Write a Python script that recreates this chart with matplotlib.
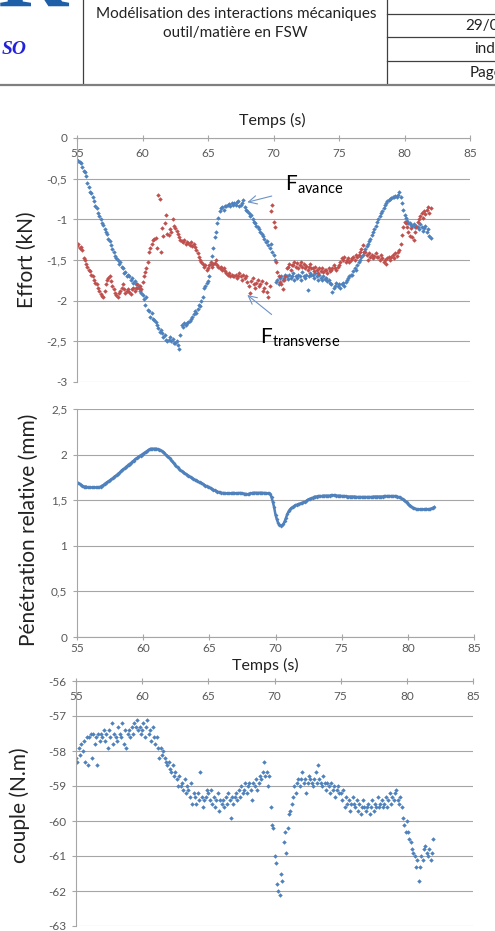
import numpy as np
import matplotlib
matplotlib.use("Agg")
import matplotlib.pyplot as plt

plt.rcParams['font.family'] = ['Lato', 'DejaVu Sans']
plt.rcParams['mathtext.fontset'] = 'custom'
plt.rcParams['mathtext.rm'] = 'Lato'
plt.rcParams['axes.unicode_minus'] = False

# sample times, one every 0.1 s from 55 s to 82 s
temps = np.round(np.arange(55.0, 82.05, 0.1), 1)

f_avance = [
    -0.27, -0.28, -0.30, -0.31, -0.36, -0.41, -0.42, -0.47, -0.55, -0.60,
    -0.66, -0.68, -0.72, -0.78, -0.84, -0.86, -0.92, -0.96, -1.00, -1.05,
    -1.07, -1.12, -1.15, -1.18, -1.24, -1.27, -1.31, -1.36, -1.40, -1.45,
    -1.48, -1.50, -1.55, -1.53, -1.58, -1.60, -1.66, -1.65, -1.70, -1.68,
    -1.70, -1.74, -1.72, -1.78, -1.76, -1.80, -1.84, -1.82, -1.88, -1.90,
    -1.93, -1.98, -2.05, -1.95, -2.12, -2.13, -2.20, -2.15, -2.22, -2.24,
    -2.26, -2.30, -2.33, -2.38, -2.36, -2.40, -2.45, -2.42, -2.48, -2.50,
    -2.48, -2.45, -2.50, -2.47, -2.52, -2.52, -2.50, -2.55, -2.60, -2.42,
    -2.30, -2.32, -2.28, -2.30, -2.27, -2.26, -2.25, -2.22, -2.20, -2.16,
    -2.13, -2.15, -2.10, -2.05, -2.07, -2.00, -1.95, -1.85, -1.82, -1.78,
    -1.76, -1.70, -1.55, -1.45, -1.35, -1.22, -1.15, -1.05, -0.98, -0.90,
    -0.86, -0.85, -0.88, -0.83, -0.84, -0.82, -0.81, -0.83, -0.80, -0.82,
    -0.80, -0.82, -0.79, -0.78, -0.84, -0.82, -0.80, -0.76, -0.85, -0.88,
    -0.90, -0.92, -0.96, -0.95, -1.00, -1.03, -1.05, -1.08, -1.10, -1.12,
    -1.15, -1.18, -1.20, -1.24, -1.28, -1.27, -1.32, -1.35, -1.30, -1.40,
    -1.44, -1.50, -1.77, -1.74, -1.80, -1.72, -1.70, -1.75, -1.72, -1.68,
    -1.70, -1.73, -1.68, -1.72, -1.70, -1.66, -1.74, -1.70, -1.72, -1.68,
    -1.70, -1.74, -1.65, -1.70, -1.72, -1.68, -1.87, -1.70, -1.66, -1.69,
    -1.68, -1.72, -1.66, -1.70, -1.74, -1.68, -1.72, -1.75, -1.70, -1.73,
    -1.72, -1.76, -1.74, -1.78, -1.80, -1.89, -1.84, -1.82, -1.78, -1.82,
    -1.80, -1.84, -1.80, -1.78, -1.82, -1.77, -1.74, -1.72, -1.70, -1.69,
    -1.68, -1.64, -1.60, -1.62, -1.56, -1.52, -1.50, -1.46, -1.44, -1.40,
    -1.36, -1.33, -1.30, -1.27, -1.24, -1.19, -1.16, -1.12, -1.08, -1.03,
    -0.99, -0.96, -0.92, -0.90, -0.86, -0.82, -0.80, -0.78, -0.76, -0.75,
    -0.74, -0.72, -0.73, -0.71, -0.72, -0.70, -0.66, -0.72, -0.80, -0.88,
    -0.95, -0.98, -1.02, -1.05, -1.04, -1.07, -1.08, -1.06, -1.10, -1.08,
    -1.09, -1.12, -1.06, -1.10, -1.14, -1.11, -1.08, -1.15, -1.12, -1.20,
    -1.23,
]

f_transverse = [
    -1.33, -1.30, -1.35, -1.34, -1.38, -1.48, -1.50, -1.55, -1.58, -1.62,
    -1.64, -1.68, -1.70, -1.74, -1.78, -1.80, -1.84, -1.88, -1.92, -1.94,
    -1.95, -1.88, -1.80, -1.74, -1.72, -1.70, -1.76, -1.82, -1.86, -1.90,
    -1.93, -1.96, -1.90, -1.88, -1.84, -1.80, -1.86, -1.90, -1.88, -1.86,
    -1.89, -1.92, -1.86, -1.84, -1.88, -1.85, -1.80, -1.84, -1.82, -1.86,
    -1.77, -1.70, -1.65, -1.60, -1.52, -1.40, -1.35, -1.30, -1.26, -1.24,
    -1.23, -1.35, -0.70, -0.75, -1.40, -1.11, -1.20, -1.05, -0.95, -1.18,
    -1.19, -1.12, -1.15, -1.00, -1.08, -1.11, -1.14, -1.18, -1.22, -1.25,
    -1.27, -1.28, -1.26, -1.30, -1.28, -1.29, -1.31, -1.28, -1.33, -1.30,
    -1.34, -1.38, -1.42, -1.46, -1.50, -1.52, -1.55, -1.58, -1.56, -1.62,
    -1.60, -1.56, -1.52, -1.58, -1.55, -1.54, -1.50, -1.56, -1.58, -1.60,
    -1.58, -1.62, -1.60, -1.64, -1.66, -1.68, -1.66, -1.70, -1.68, -1.70,
    -1.70, -1.68, -1.72, -1.70, -1.66, -1.70, -1.74, -1.68, -1.72, -1.70,
    -1.77, -1.82, -1.90, -1.76, -1.72, -1.80, -1.85, -1.78, -1.74, -1.82,
    -1.80, -1.76, -1.88, -1.84, -1.78, -1.89, -1.95, -1.82, -0.90, -0.82,
    -1.03, -1.10, -1.52, -1.65, -1.70, -1.77, -1.80, -1.86, -1.75, -1.70,
    -1.60, -1.58, -1.55, -1.62, -1.56, -1.56, -1.52, -1.58, -1.54, -1.60,
    -1.56, -1.52, -1.58, -1.55, -1.60, -1.57, -1.62, -1.58, -1.55, -1.60,
    -1.60, -1.64, -1.58, -1.62, -1.66, -1.60, -1.63, -1.60, -1.65, -1.62,
    -1.62, -1.66, -1.60, -1.64, -1.62, -1.60, -1.56, -1.60, -1.62, -1.58,
    -1.56, -1.52, -1.48, -1.50, -1.46, -1.52, -1.50, -1.48, -1.52, -1.50,
    -1.48, -1.46, -1.50, -1.44, -1.46, -1.44, -1.40, -1.36, -1.32, -1.40,
    -1.40, -1.44, -1.50, -1.42, -1.46, -1.44, -1.48, -1.45, -1.42, -1.46,
    -1.46, -1.50, -1.44, -1.48, -1.52, -1.50, -1.55, -1.48, -1.46, -1.50,
    -1.46, -1.44, -1.48, -1.42, -1.45, -1.40, -1.38, -1.30, -1.19, -1.10,
    -1.03, -1.05, -1.10, -1.15, -1.20, -1.11, -1.22, -1.25, -1.15, -1.10,
    -1.03, -1.00, -0.96, -0.92, -0.98, -0.90, -0.94, -0.88, -0.85, -0.92,
    -0.86,
]

penetration = [
    1.69, 1.69, 1.68, 1.67, 1.66, 1.65, 1.65, 1.65, 1.64, 1.64,
    1.64, 1.64, 1.64, 1.64, 1.64, 1.64, 1.64, 1.64, 1.65, 1.66,
    1.665, 1.68, 1.69, 1.70, 1.71, 1.72, 1.73, 1.74, 1.755, 1.765,
    1.775, 1.79, 1.80, 1.815, 1.83, 1.84, 1.85, 1.865, 1.875, 1.89,
    1.90, 1.91, 1.925, 1.935, 1.95, 1.96, 1.97, 1.98, 1.99, 2.00,
    2.01, 2.02, 2.03, 2.04, 2.05, 2.06, 2.065, 2.065, 2.065, 2.065,
    2.065, 2.06, 2.055, 2.05, 2.04, 2.03, 2.02, 2.00, 1.99, 1.975,
    1.96, 1.94, 1.925, 1.905, 1.89, 1.87, 1.86, 1.845, 1.83, 1.82,
    1.81, 1.80, 1.79, 1.78, 1.77, 1.76, 1.75, 1.74, 1.735, 1.725,
    1.72, 1.71, 1.70, 1.695, 1.69, 1.68, 1.67, 1.66, 1.655, 1.645,
    1.64, 1.63, 1.62, 1.615, 1.61, 1.60, 1.595, 1.59, 1.585, 1.58,
    1.58, 1.578, 1.575, 1.575, 1.575, 1.575, 1.575, 1.578, 1.58, 1.578,
    1.575, 1.575, 1.578, 1.58, 1.578, 1.575, 1.572, 1.57, 1.568, 1.565,
    1.57, 1.575, 1.578, 1.58, 1.582, 1.582, 1.58, 1.58, 1.582, 1.582,
    1.58, 1.58, 1.578, 1.575, 1.575, 1.575, 1.57, 1.53, 1.48, 1.42,
    1.34, 1.29, 1.25, 1.23, 1.22, 1.225, 1.24, 1.27, 1.31, 1.35,
    1.38, 1.40, 1.415, 1.425, 1.435, 1.445, 1.45, 1.455, 1.46, 1.465,
    1.47, 1.475, 1.48, 1.49, 1.50, 1.51, 1.515, 1.52, 1.525, 1.535,
    1.54, 1.54, 1.545, 1.545, 1.545, 1.545, 1.55, 1.55, 1.55, 1.55,
    1.55, 1.55, 1.555, 1.555, 1.555, 1.555, 1.55, 1.55, 1.55, 1.55,
    1.545, 1.545, 1.545, 1.545, 1.54, 1.54, 1.54, 1.54, 1.54, 1.54,
    1.54, 1.535, 1.535, 1.535, 1.535, 1.535, 1.535, 1.535, 1.535, 1.535,
    1.535, 1.535, 1.535, 1.535, 1.54, 1.54, 1.54, 1.54, 1.54, 1.54,
    1.54, 1.54, 1.545, 1.545, 1.545, 1.545, 1.545, 1.545, 1.545, 1.545,
    1.545, 1.545, 1.54, 1.535, 1.53, 1.52, 1.51, 1.50, 1.49, 1.475,
    1.46, 1.45, 1.44, 1.425, 1.415, 1.41, 1.405, 1.40, 1.40, 1.40,
    1.40, 1.40, 1.40, 1.40, 1.405, 1.40, 1.40, 1.405, 1.41, 1.415,
    1.425,
]

couple = [
    -58.2, -58.3, -57.9, -58.1, -57.8, -58.0, -57.7, -58.3, -57.6, -58.4,
    -57.6, -57.5, -58.2, -57.5, -57.8, -57.6, -58.4, -57.5, -57.7, -57.5,
    -57.6, -57.4, -57.7, -57.5, -57.9, -57.4, -57.6, -57.2, -57.8, -57.5,
    -57.6, -57.7, -57.3, -57.5, -57.6, -57.2, -57.8, -57.4, -57.9, -57.5,
    -57.4, -57.6, -57.3, -57.5, -57.2, -57.3, -57.1, -57.4, -57.3, -57.5,
    -57.4, -57.2, -57.6, -57.3, -57.1, -57.5, -57.4, -57.7, -57.3, -57.6,
    -57.8, -57.6, -57.9, -58.2, -57.9, -58.1, -58.0, -58.2, -58.3, -58.4,
    -58.3, -58.5, -58.6, -58.4, -58.7, -58.6, -58.8, -59.0, -58.7, -59.0,
    -58.9, -59.1, -58.8, -59.2, -59.0, -59.1, -59.3, -58.9, -59.5, -59.2,
    -59.3, -59.5, -59.2, -59.4, -58.6, -59.3, -59.6, -59.4, -59.3, -59.1,
    -59.2, -59.4, -59.1, -59.5, -59.3, -59.6, -59.4, -59.2, -59.7, -59.4,
    -59.5, -59.4, -59.6, -59.3, -59.5, -59.2, -59.4, -59.9, -59.3, -59.5,
    -59.3, -59.2, -59.4, -59.1, -59.3, -59.0, -59.2, -59.1, -58.9, -59.2,
    -59.0, -58.9, -59.1, -59.4, -58.9, -59.0, -58.8, -59.1, -58.9, -58.7,
    -58.8, -58.6, -58.3, -58.7, -58.6, -59.0, -58.7, -59.6, -60.1, -60.2,
    -61.0, -61.2, -61.8, -62.0, -62.1, -61.5, -61.7, -60.6, -60.3, -60.9,
    -60.2, -59.8, -59.7, -59.5, -59.3, -59.0, -59.2, -58.9, -58.8, -59.0,
    -58.8, -58.6, -58.9, -58.8, -59.2, -58.9, -58.7, -58.8, -58.9, -59.0,
    -58.8, -58.6, -58.9, -58.4, -58.8, -58.9, -59.0, -58.7, -58.9, -59.1,
    -58.9, -59.0, -59.2, -58.9, -59.1, -59.0, -59.3, -59.1, -59.0, -59.2,
    -59.2, -59.4, -59.1, -59.6, -59.3, -59.5, -59.4, -59.7, -59.5, -59.3,
    -59.5, -59.6, -59.4, -59.7, -59.5, -59.8, -59.6, -59.4, -59.6, -59.7,
    -59.6, -59.5, -59.8, -59.6, -59.4, -59.7, -59.5, -59.6, -59.3, -59.6,
    -59.5, -59.4, -59.6, -59.5, -59.3, -59.6, -59.4, -59.2, -59.5, -59.3,
    -59.4, -59.2, -59.1, -59.4, -59.5, -59.3, -59.6, -59.9, -60.1, -60.3,
    -60.0, -60.3, -60.5, -60.6, -60.8, -60.9, -61.0, -61.3, -61.1, -61.7,
    -61.3, -61.0, -61.1, -60.8, -60.7, -60.9, -61.0, -60.8, -61.1, -60.9,
    -60.5,
]

x_ticks = [55, 60, 65, 70, 75, 80, 85]
effort_ticks = [0, -0.5, -1, -1.5, -2, -2.5, -3]
effort_labels = ["0", "-0,5", "-1", "-1,5", "-2", "-2,5", "-3"]
pen_ticks = [0, 0.5, 1, 1.5, 2, 2.5]
pen_labels = ["0", "0,5", "1", "1,5", "2", "2,5"]
couple_ticks = [-56, -57, -58, -59, -60, -61, -62, -63]

BLUE = "#4f81bd"
RED = "#c0504d"
GRID = "#a6a6a6"
TXT = "#595959"

W, H = 495, 931
fig = plt.figure(figsize=(W / 100, H / 100), dpi=100)


def px_axes(x0, y0, x1, y1):
    return fig.add_axes([x0 / W, 1 - y1 / H, (x1 - x0) / W, (y1 - y0) / H])


def style(ax, top_axis):
    ax.set_xlim(55, 85)
    ax.set_xticks(x_ticks)
    for s in ["right", "top", "bottom", "left"]:
        ax.spines[s].set_visible(False)
    ax.spines["left"].set_visible(True)
    ax.spines["left"].set_color(GRID)
    ax.yaxis.grid(True, color=GRID, lw=0.8)
    ax.set_axisbelow(True)
    ax.tick_params(axis="y", colors=GRID, labelcolor=TXT, labelsize=8.5,
                   length=3, pad=4)
    if top_axis:
        ax.spines["top"].set_visible(True)
        ax.spines["top"].set_color(GRID)
        ax.xaxis.set_ticks_position("top")
        ax.tick_params(axis="x", direction="inout", colors=GRID,
                       labelcolor=TXT, labelsize=8.5, length=4,
                       labeltop=True, labelbottom=False, pad=-17)
    else:
        ax.spines["bottom"].set_visible(True)
        ax.spines["bottom"].set_color(GRID)
        ax.tick_params(axis="x", direction="inout", colors=GRID,
                       labelcolor=TXT, labelsize=8.5, length=4, pad=2)


mk = dict(ls="none", marker="D", ms=2.3, mew=0)

# effort
ax1 = px_axes(77, 138, 470, 382)
ax1.plot(temps, f_avance, color=BLUE, **mk)
ax1.plot(temps, f_transverse, color=RED, **mk)
ax1.set_ylim(-3, 0)
ax1.set_yticks(effort_ticks)
ax1.set_yticklabels(effort_labels)
style(ax1, True)
ax1.annotate(r"F$_{\mathrm{avance}}$", xy=(68.0, -0.79), xytext=(70.9, -0.58),
             fontsize=15, va="center", color="black",
             arrowprops=dict(arrowstyle="->", color="#6d93c7", lw=0.8,
                             shrinkA=8, shrinkB=0))
ax1.annotate(r"F$_{\mathrm{transverse}}$", xy=(68.0, -1.93),
             xytext=(68.95, -2.45), fontsize=15, va="center", color="black",
             arrowprops=dict(arrowstyle="->", color="#6d93c7", lw=0.8,
                             shrinkA=10, shrinkB=0))

# penetration
ax2 = px_axes(77, 409, 474, 637)
ax2.plot(temps, penetration, color=BLUE, lw=1.8, marker="D", ms=2.0, mew=0)
ax2.set_ylim(0, 2.5)
ax2.set_yticks(pen_ticks)
ax2.set_yticklabels(pen_labels)
style(ax2, False)

# couple
ax3 = px_axes(76, 681, 473, 926)
ax3.plot(temps, couple, color=BLUE, **mk)
ax3.set_ylim(-63, -56)
ax3.set_yticks(couple_ticks)
style(ax3, True)

# page overlay: header table, logo, axis titles
ov = fig.add_axes([0, 0, 1, 1])
ov.set_xlim(0, W)
ov.set_ylim(H, 0)
ov.axis("off")

ov.plot([83, 83], [0, 84], color="#404040", lw=0.9)
ov.plot([387, 387], [0, 84], color="#404040", lw=0.9)
for y in [14, 37, 61]:
    ov.plot([387, W], [y, y], color="#404040", lw=0.9)
ov.plot([0, W], [84.5, 84.5], color="#7f7f7f", lw=1.6)

ov.text(236, 14, "Modélisation des interactions mécaniques", fontsize=11,
        ha="center", va="center", color="#222222")
ov.text(235, 33, "outil/matière en FSW", fontsize=11, ha="center",
        va="center", color="#222222")
ov.text(465, 26, "29/06", fontsize=11, ha="left", va="center",
        color="#222222")
ov.text(474, 49, "ind", fontsize=11, ha="left", va="center", color="#222222")
ov.text(470, 73, "Page", fontsize=11, ha="left", va="center",
        color="#222222")

ov.text(-3, 7, "R", fontsize=70, family="Liberation Serif", weight="bold",
        color="#1f5fa8", ha="left", va="baseline")
ov.text(2, 50, "SO", fontsize=14, family="Liberation Serif", weight="bold",
        style="italic", color="#2222dd", ha="left", va="center")

ov.text(272, 120, "Temps (s)", fontsize=11.5, ha="center", va="center",
        color="#222222")
ov.text(265, 665, "Temps (s)", fontsize=11.5, ha="center", va="center",
        color="#222222")
ov.text(27, 260, "Effort (kN)", fontsize=15, rotation=90, ha="center",
        va="center", color="#222222")
ov.text(29, 530, "Pénétration relative (mm)", fontsize=15, rotation=90,
        ha="center", va="center", color="#222222")
ov.text(20, 805, "couple (N.m)", fontsize=15, rotation=90, ha="center",
        va="center", color="#222222")

fig.savefig("out.png", dpi=100)
